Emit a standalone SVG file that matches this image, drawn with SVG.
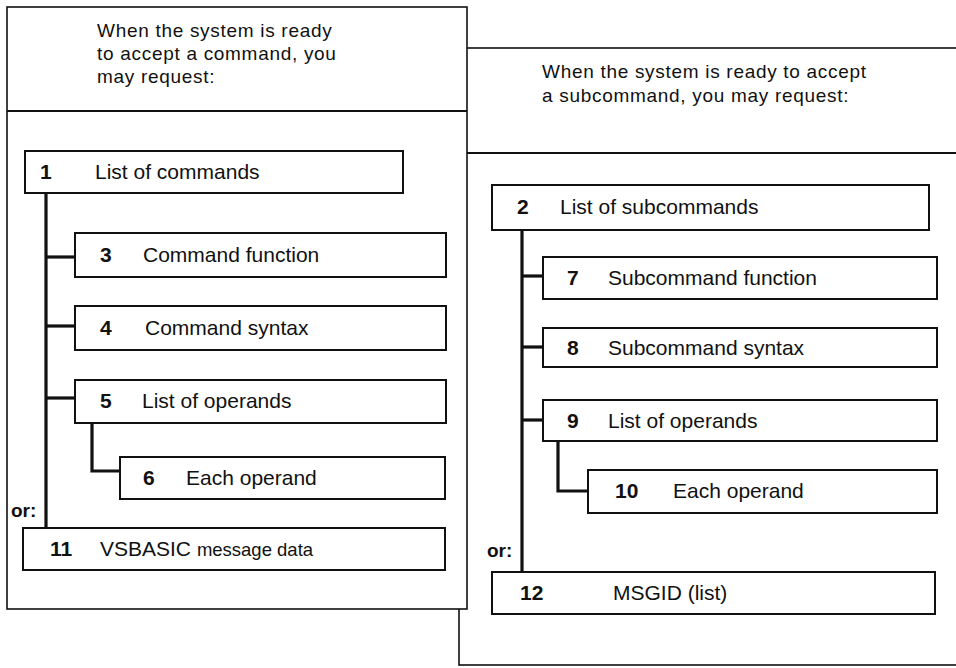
<svg xmlns="http://www.w3.org/2000/svg" width="956" height="668" viewBox="0 0 956 668">
  <style>
    .panel { fill: #ffffff; stroke: #111111; stroke-width: 1.6; }
    .rule { stroke: #111111; stroke-width: 1.8; fill: none; }
    .box { fill: #ffffff; stroke: #111111; stroke-width: 2; }
    .link { stroke: #111111; stroke-width: 3.2; fill: none; stroke-linejoin: miter; }
    text { font-family: "Liberation Sans", Arial, sans-serif; fill: #111111; }
    .head { font-size: 19px; letter-spacing: 0.7px; }
    .label { font-size: 21px; }
    .num { font-size: 21px; font-weight: bold; }
    .or { font-size: 19px; font-weight: bold; }
  </style>

  <!-- Subcommand panel (drawn first, partly covered by the command panel) -->
  <g id="subcommand-panel">
    <rect class="panel" x="459" y="48" width="520" height="617"/>
    <line class="rule" x1="459" y1="153" x2="956" y2="153"/>
    <text class="head" x="542" y="78">When the system is ready to accept</text>
    <text class="head" x="542" y="102">a subcommand, you may request:</text>
  </g>

  <!-- Command panel -->
  <g id="command-panel">
    <rect class="panel" x="7" y="7" width="460" height="602"/>
    <line class="rule" x1="7" y1="111" x2="467" y2="111"/>
    <text class="head" x="97" y="37">When the system  is ready</text>
    <text class="head" x="97" y="60">to accept a command, you</text>
    <text class="head" x="97" y="83">may request:</text>
  </g>

  <!-- Connectors -->
  <g id="connectors">
    <polyline class="link" points="46,193 46,528"/>
    <line class="link" x1="46" y1="257" x2="75" y2="257"/>
    <line class="link" x1="46" y1="326" x2="75" y2="326"/>
    <line class="link" x1="46" y1="398" x2="75" y2="398"/>
    <polyline class="link" points="92,423 92,471 120,471"/>

    <polyline class="link" points="522,230 522,572"/>
    <line class="link" x1="522" y1="276" x2="543" y2="276"/>
    <line class="link" x1="522" y1="347" x2="543" y2="347"/>
    <line class="link" x1="522" y1="420" x2="543" y2="420"/>
    <polyline class="link" points="558,441 558,491 588,491"/>
  </g>

  <!-- Command branch -->
  <g id="node-1">
    <rect class="box" x="25" y="151" width="378" height="42"/>
    <text class="num" x="40" y="179">1</text>
    <text class="label" x="95" y="179">List of commands</text>
  </g>
  <g id="node-3">
    <rect class="box" x="75" y="233" width="371" height="44"/>
    <text class="num" x="100" y="262">3</text>
    <text class="label" x="143" y="262">Command function</text>
  </g>
  <g id="node-4">
    <rect class="box" x="75" y="306" width="371" height="44"/>
    <text class="num" x="100" y="335">4</text>
    <text class="label" x="145" y="335">Command syntax</text>
  </g>
  <g id="node-5">
    <rect class="box" x="75" y="380" width="371" height="43"/>
    <text class="num" x="100" y="408">5</text>
    <text class="label" x="142" y="408">List of operands</text>
  </g>
  <g id="node-6">
    <rect class="box" x="120" y="457" width="325" height="42"/>
    <text class="num" x="143" y="485">6</text>
    <text class="label" x="186" y="485">Each operand</text>
  </g>
  <text class="or" x="11" y="517">or:</text>
  <g id="node-11">
    <rect class="box" x="23" y="528" width="422" height="42"/>
    <text class="num" x="50" y="556">11</text>
    <text class="label" x="100" y="556">VSBASIC <tspan font-size="18.5">message data</tspan></text>
  </g>

  <!-- Subcommand branch -->
  <g id="node-2">
    <rect class="box" x="492" y="185" width="437" height="45"/>
    <text class="num" x="517" y="214">2</text>
    <text class="label" x="560" y="214">List of subcommands</text>
  </g>
  <g id="node-7">
    <rect class="box" x="543" y="257" width="394" height="42"/>
    <text class="num" x="567" y="285">7</text>
    <text class="label" x="608" y="285">Subcommand function</text>
  </g>
  <g id="node-8">
    <rect class="box" x="543" y="328" width="394" height="39"/>
    <text class="num" x="567" y="355">8</text>
    <text class="label" x="608" y="355">Subcommand syntax</text>
  </g>
  <g id="node-9">
    <rect class="box" x="543" y="400" width="394" height="41"/>
    <text class="num" x="567" y="428">9</text>
    <text class="label" x="608" y="428">List of operands</text>
  </g>
  <g id="node-10">
    <rect class="box" x="588" y="470" width="349" height="43"/>
    <text class="num" x="615" y="498">10</text>
    <text class="label" x="673" y="498">Each operand</text>
  </g>
  <text class="or" x="487" y="557">or:</text>
  <g id="node-12">
    <rect class="box" x="492" y="572" width="443" height="42"/>
    <text class="num" x="520" y="600">12</text>
    <text class="label" x="613" y="600">MSGID (list)</text>
  </g>
</svg>
